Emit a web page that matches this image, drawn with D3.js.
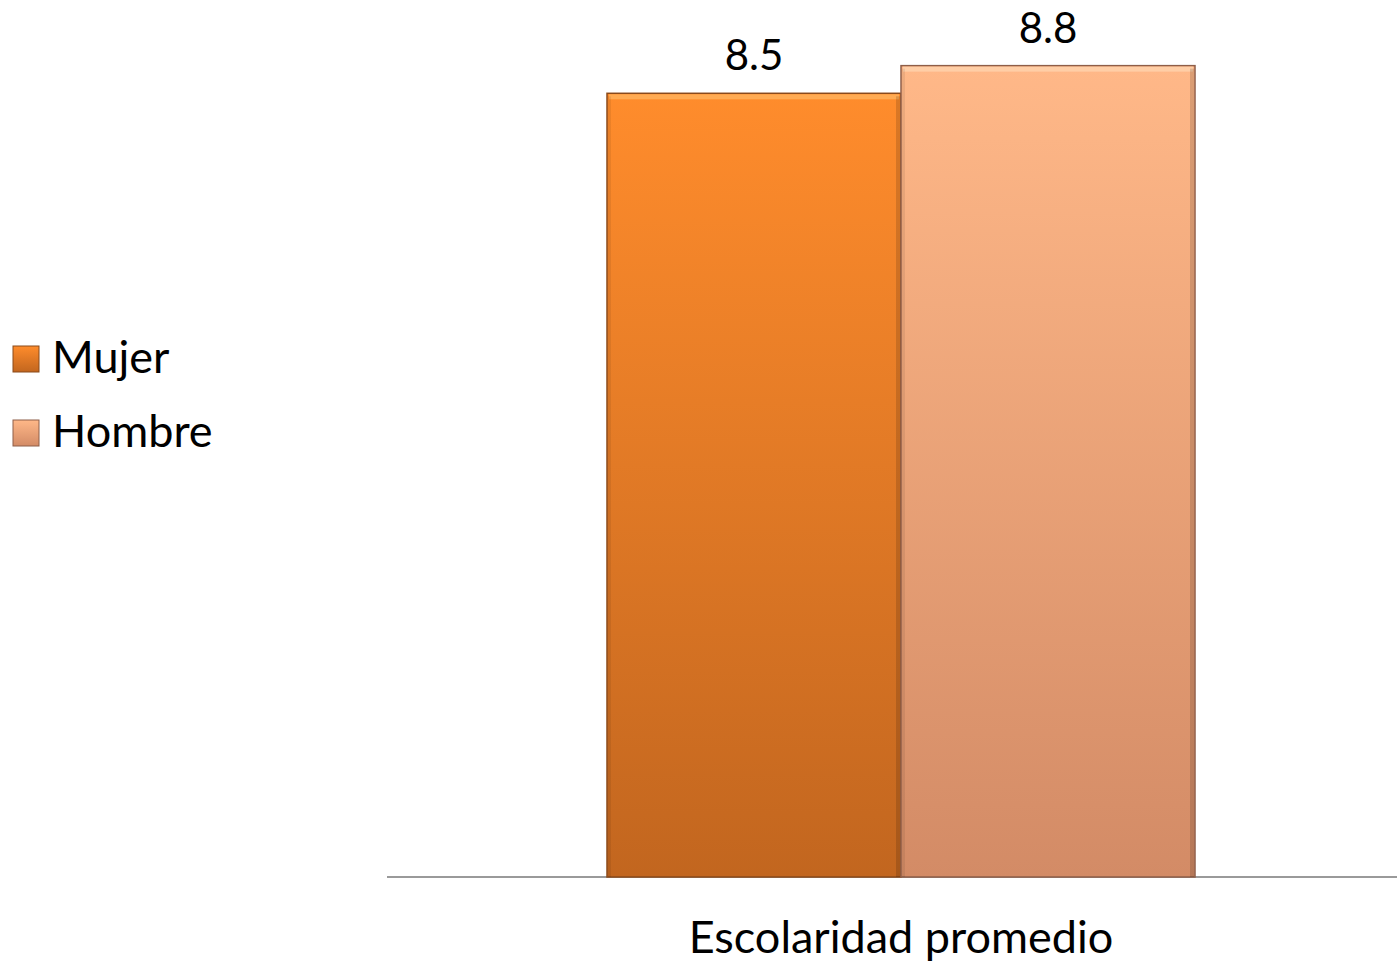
<!DOCTYPE html>
<html><head><meta charset="utf-8">
<script src="https://cdn.jsdelivr.net/npm/d3@7"></script>
<style>html,body{margin:0;padding:0;background:#fff;}svg{display:block;}</style>
</head><body>
<script>
const categories = ["Escolaridad promedio"];
const seriesNames = ["Mujer", "Hombre"];
const mujerValues = [8.5];
const hombreValues = [8.8];

const W = 1397, H = 962;
const svg = d3.select("body").append("svg").attr("width", W).attr("height", H);
const font = "Lato, 'Open Sans', sans-serif";
const fs = 45;

const defs = svg.append("defs");
const palette = {
  Mujer: {top: "#FF8C2C", bot: "#C2661F", stroke: "#8A4A1A", hi: "#FFB35E"},
  Hombre: {top: "#FFB888", bot: "#D38B66", stroke: "#8E5E48", hi: "#FFD3AE"}
};
seriesNames.forEach(s => {
  const g = defs.append("linearGradient").attr("id", "g-" + s).attr("x1", 0).attr("y1", 0).attr("x2", 0).attr("y2", 1);
  g.append("stop").attr("offset", "0%").attr("stop-color", palette[s].top);
  g.append("stop").attr("offset", "100%").attr("stop-color", palette[s].bot);
});

const x0 = d3.scaleBand().domain(categories).range([607, 1195]).padding(0);
const x1 = d3.scaleBand().domain(seriesNames).range([0, x0.bandwidth()]).padding(0);
const y = d3.scaleLinear().domain([0, 10]).range([877, 877 - 922]);

const data = categories.map((c, i) => ({cat: c, values: [
  {s: "Mujer", v: mujerValues[i]}, {s: "Hombre", v: hombreValues[i]}]}));

svg.append("line").attr("x1", 387).attr("x2", 1397).attr("y1", y(0)).attr("y2", y(0))
  .attr("stroke", "#9a9a9a").attr("stroke-width", 2);

const gCat = svg.selectAll("g.cat").data(data).join("g").attr("class", "cat")
  .attr("transform", d => `translate(${x0(d.cat)},0)`);

const bars = gCat.selectAll("g.bar").data(d => d.values).join("g").attr("class", "bar");
bars.append("rect")
  .attr("x", d => x1(d.s)).attr("y", d => y(d.v))
  .attr("width", x1.bandwidth()).attr("height", d => y(0) - y(d.v))
  .attr("fill", d => `url(#g-${d.s})`)
  .attr("stroke", d => palette[d.s].stroke).attr("stroke-width", 1.5);
bars.append("rect")
  .attr("x", d => x1(d.s) + 2).attr("y", d => y(d.v) + 1)
  .attr("width", x1.bandwidth() - 4).attr("height", 5)
  .attr("fill", d => palette[d.s].hi).attr("opacity", 0.8);
bars.append("rect")
  .attr("x", d => x1(d.s) + x1.bandwidth() - 5).attr("y", d => y(d.v) + 3)
  .attr("width", 4).attr("height", d => y(0) - y(d.v) - 3)
  .attr("fill", "#000").attr("opacity", 0.14);
bars.append("rect")
  .attr("x", d => x1(d.s) + 1).attr("y", d => y(d.v) + 3)
  .attr("width", 3).attr("height", d => y(0) - y(d.v) - 3)
  .attr("fill", "#000").attr("opacity", 0.07);

bars.append("text")
  .attr("x", d => x1(d.s) + x1.bandwidth() / 2).attr("y", d => y(d.v) - 23)
  .attr("text-anchor", "middle").attr("font-family", font).attr("font-size", 42)
  .attr("fill", "#000").text(d => d.v.toFixed(1));

svg.selectAll("text.cat").data(categories).join("text").attr("class", "cat")
  .attr("x", d => x0(d) + x0.bandwidth() / 2).attr("y", 953)
  .attr("text-anchor", "middle").attr("font-family", font).attr("font-size", fs)
  .attr("fill", "#000").text(d => d);

const leg = svg.selectAll("g.leg").data(seriesNames).join("g").attr("class", "leg")
  .attr("transform", (d, i) => `translate(13,${346 + i * 74})`);
leg.append("rect").attr("width", 26).attr("height", 26)
  .attr("fill", d => `url(#g-${d})`).attr("stroke", d => palette[d].stroke).attr("stroke-width", 1);
leg.append("text").attr("x", 39).attr("y", 27).attr("font-family", font).attr("font-size", fs)
  .attr("fill", "#000").text(d => d);
</script>
</body></html>
